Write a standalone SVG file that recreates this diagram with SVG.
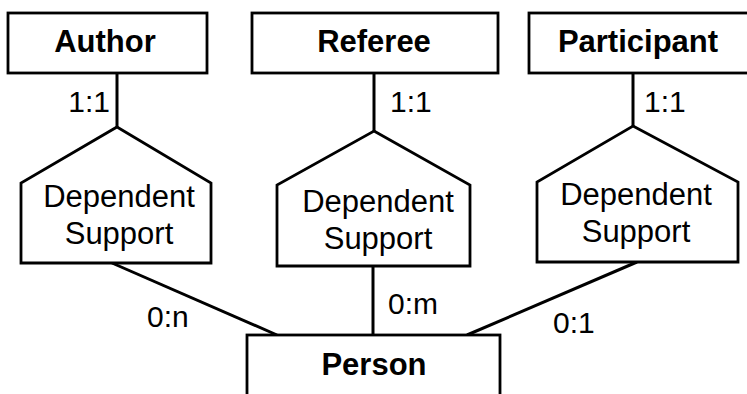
<svg xmlns="http://www.w3.org/2000/svg" width="747" height="394" viewBox="0 0 747 394">
<style>
.box{fill:#fff;stroke:#000;stroke-width:2.8}
.ln{fill:none;stroke:#000;stroke-width:3}
.t{font-family:"Liberation Sans",Arial,sans-serif;fill:#000}
.b{font-size:31px;font-weight:bold;text-anchor:middle}
.r{font-size:31px;text-anchor:middle}
.c{font-size:30px}
</style>
<rect width="747" height="394" fill="#fff"/>
<g id="connectors">
<line class="ln" x1="117" y1="73" x2="117" y2="127"/>
<line class="ln" x1="374" y1="73" x2="374" y2="131"/>
<line class="ln" x1="633" y1="73" x2="633" y2="126"/>
<line class="ln" x1="112" y1="263" x2="277" y2="335"/>
<line class="ln" x1="373" y1="266" x2="373" y2="335"/>
<line class="ln" x1="637" y1="262" x2="467" y2="335"/>
<text class="t c" x="110" y="112" text-anchor="end">1:1</text>
<text class="t c" x="390" y="112">1:1</text>
<text class="t c" x="644" y="112">1:1</text>
<text class="t c" x="147" y="327">0:n</text>
<text class="t c" x="388" y="314">0:m</text>
<text class="t c" x="553" y="333">0:1</text>
</g>
<g id="author">
<rect class="box" x="8" y="13" width="199" height="60"/>
<text class="t b" x="105" y="52">Author</text>
</g>
<g id="referee">
<rect class="box" x="252" y="13" width="246" height="60"/>
<text class="t b" x="374" y="52">Referee</text>
</g>
<g id="participant">
<rect class="box" x="529" y="13" width="220" height="60"/>
<text class="t b" x="638" y="52">Participant</text>
</g>
<g id="support-author">
<polygon class="box" points="117,127 211,183 211,263 21,263 21,183"/>
<text class="t r" x="119" y="207">Dependent</text>
<text class="t r" x="119" y="244">Support</text>
</g>
<g id="support-referee">
<polygon class="box" points="374,131 470,185 470,266 277,266 277,185"/>
<text class="t r" x="378" y="212">Dependent</text>
<text class="t r" x="378" y="249">Support</text>
</g>
<g id="support-participant">
<polygon class="box" points="633,126 738,182 738,262 537,262 537,182"/>
<text class="t r" x="636" y="205">Dependent</text>
<text class="t r" x="636" y="242">Support</text>
</g>
<g id="person">
<rect class="box" x="247" y="335" width="253" height="70"/>
<text class="t b" x="374" y="375">Person</text>
</g>
</svg>
